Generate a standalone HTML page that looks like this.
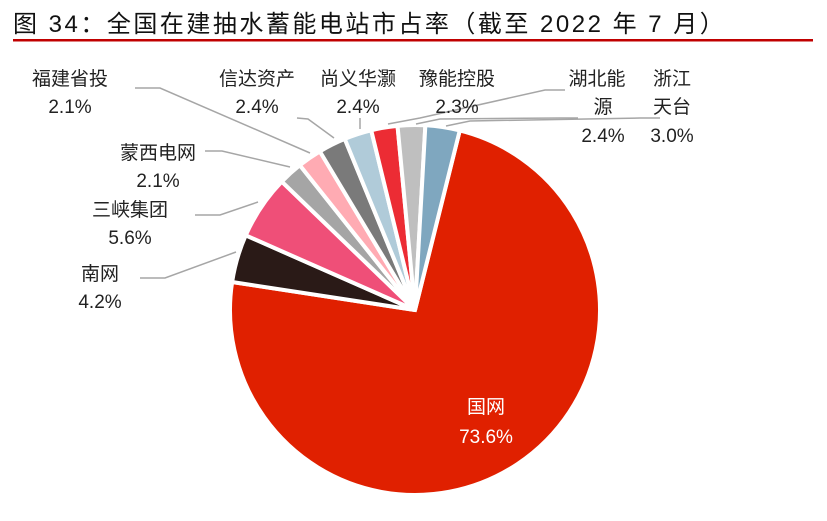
<!DOCTYPE html>
<html><head><meta charset="utf-8"><style>
body{margin:0;background:#fff;width:827px;height:521px;overflow:hidden}
svg{display:block}
text{font-family:"Liberation Sans","Noto Sans CJK SC",sans-serif;font-size:19px;fill:#222}
</style></head><body>
<svg width="827" height="521" viewBox="0 0 827 521">
<text x="13" y="32" style="font-size:24px;fill:#111;letter-spacing:2.5px">图 34：全国在建抽水蓄能电站市占率（截至 2022 年 7 月）</text>
<rect x="13" y="39" width="800" height="2.5" fill="#c00000"/>
<g id="pie" stroke="#fff" stroke-width="4"></g>
<g fill="none" stroke="#a6a6a6" stroke-width="1.5">
<polyline points="135,88 160,88 310,153"/>
<polyline points="297,118 308,119 334,138"/>
<polyline points="205,151 222,151 290,167"/>
<polyline points="195,215 220,215 258,202"/>
<polyline points="140,278 165,278 236,252"/>
<polyline points="360,118 360,129"/>
<polyline points="388,124 420,118 545,90 565,90"/>
<polyline points="416,124 440,119 560,118 578,118"/>
<polyline points="446,126 470,121 640,118 660,118"/>
</g>
<g text-anchor="middle">
<text x="70" y="85">福建省投</text><text x="70" y="113">2.1%</text>
<text x="257" y="85">信达资产</text><text x="257" y="113">2.4%</text>
<text x="358" y="85">尚义华灏</text><text x="358" y="113">2.4%</text>
<text x="457" y="85">豫能控股</text><text x="457" y="113">2.3%</text>
<text x="597" y="85">湖北能</text><text x="603" y="113">源</text><text x="603" y="142">2.4%</text>
<text x="672" y="85">浙江</text><text x="672" y="113">天台</text><text x="672" y="142">3.0%</text>
<text x="158" y="159">蒙西电网</text><text x="158" y="187">2.1%</text>
<text x="130" y="216">三峡集团</text><text x="130" y="244">5.6%</text>
<text x="100" y="280">南网</text><text x="100" y="308">4.2%</text>
<text x="486" y="413" style="fill:#fff">国网</text><text x="486" y="443" style="fill:#fff">73.6%</text>
</g>
</svg>
<script>
var d=[[73.6,"#e02000"],[4.2,"#2a1a17"],[5.6,"#ef4f78"],[2.1,"#a5a5a5"],[2.1,"#ffabb3"],[2.4,"#7a7a7a"],[2.4,"#b0cbd9"],[2.3,"#ec2c34"],[2.4,"#bfbfbf"],[3.0,"#7fa7bf"]];
var tot=d.reduce((a,b)=>a+b[0],0),cx=415,cy=310,r=185,a=14,g=document.getElementById("pie"),s="";
function p(ang,rr){var t=ang*Math.PI/180;return[cx+rr*Math.sin(t),cy-rr*Math.cos(t)];}
d.forEach(function(e){var sw=e[0]/tot*360,a2=a+sw,p1=p(a,r),p2=p(a2,r);
s+='<path fill="'+e[1]+'" d="M'+cx+','+cy+'L'+p1[0]+','+p1[1]+'A'+r+','+r+' 0 '+(sw>180?1:0)+' 1 '+p2[0]+','+p2[1]+'Z"/>';a=a2;});
g.innerHTML=s;
</script>
</body></html>
